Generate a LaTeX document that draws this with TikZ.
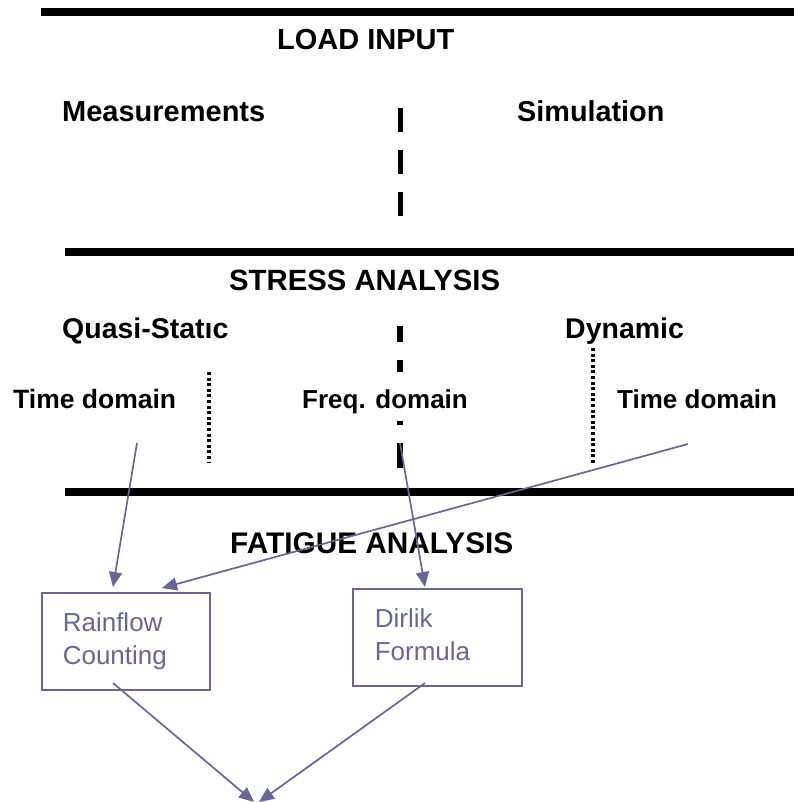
\documentclass[tikz,border=0pt]{standalone}
\usepackage{fontspec}
\setmainfont{Liberation Sans}
\usetikzlibrary{arrows.meta}
\definecolor{flow}{RGB}{102,102,153}
\begin{document}
\begin{tikzpicture}[x=1pt,y=-1pt,
  rule/.style={line width=7.7pt},
  head/.style={font=\fontsize{28.5}{34}\selectfont\bfseries, inner sep=0pt, anchor=base west},
  sub/.style={font=\fontsize{26}{31}\selectfont\bfseries, inner sep=0pt, anchor=base west},
  bar/.style={line width=5.5pt},
  dots/.style={line width=4pt, dash pattern=on 3pt off 2.6pt},
  box/.style={draw=flow, line width=1.6pt, text=flow, align=left, inner ysep=0pt,
    font=\fontsize{26}{33}\selectfont, minimum height=97pt, anchor=north west},
  link/.style={draw=flow, line width=1.7pt, -{Triangle[length=15pt,width=13pt]}}
]
\useasboundingbox (0,0) rectangle (794,802);

% section rules
\draw[rule] (41,12) -- (794,12);
\draw[rule] (65,252) -- (794,252);
\draw[rule] (65,492) -- (794,492);

% load input
\node[head, font=\fontsize{29}{34}\selectfont\bfseries] (load) at (277,50) {LOAD INPUT};
\node[head, font=\fontsize{29}{34}\selectfont\bfseries] (meas) at (62,122) {Measurements};
\node[head, font=\fontsize{28.8}{34}\selectfont\bfseries] (simu) at (517,122) {Simulation};
\draw[bar, dash pattern=on 24pt off 18pt] (400.5,108) -- (400.5,216);

% stress analysis
\node[head, font=\fontsize{29.3}{34}\selectfont\bfseries] (stress) at (229,290) {STRESS ANALYSIS};
\node[head] (quasi) at (62,338) {Quasi-Statıc};
\node[head] (dyn) at (565,338) {Dynamic};
\node[sub, font=\fontsize{26.5}{31}\selectfont\bfseries] (tdl) at (13,408) {Time domain};
\node[sub] (fqd) at (302,408) {Freq. domain};
\node[sub] (tdr) at (617,408) {Time domain};
\draw[bar] (400,326) -- (400,342);
\draw[bar] (400,360) -- (400,372);
\draw[bar] (400,421) -- (400,425);
\draw[bar] (400,443) -- (400,468);
\draw[dots] (209,372) -- (209,463);
\draw[dots] (592.5,348) -- (592.5,463);

% fatigue analysis
\node[head, font=\fontsize{29.8}{34}\selectfont\bfseries] (fatigue) at (230,553) {FATIGUE ANALYSIS};
\node[box, inner xsep=21pt, text width=126pt] (rain) at (41,592) {\strut Rainflow\\Counting\strut};
\node[box, inner xsep=22pt, text width=125pt] (dirlik) at (352,588) {\strut Dirlik\\Formula\strut};

% connector ends
\coordinate (qsrc) at (137,443);
\coordinate (fsrc) at (400,443);
\coordinate (dsrc) at (688,444);
\coordinate (rainA) at (113,587);
\coordinate (rainB) at (162,588);
\coordinate (dirA) at (425,587);
\coordinate (rainout) at (113,683);
\coordinate (dirout) at (425,683);
\coordinate (resL) at (254,802);
\coordinate (resR) at (259,802);

\draw[link] (qsrc) -- (rainA);
\draw[link] (dsrc) -- (rainB);
\draw[link] (fsrc) -- (dirA);
\draw[link] (rainout) -- (resL);
\draw[link] (dirout) -- (resR);
\end{tikzpicture}
\end{document}
